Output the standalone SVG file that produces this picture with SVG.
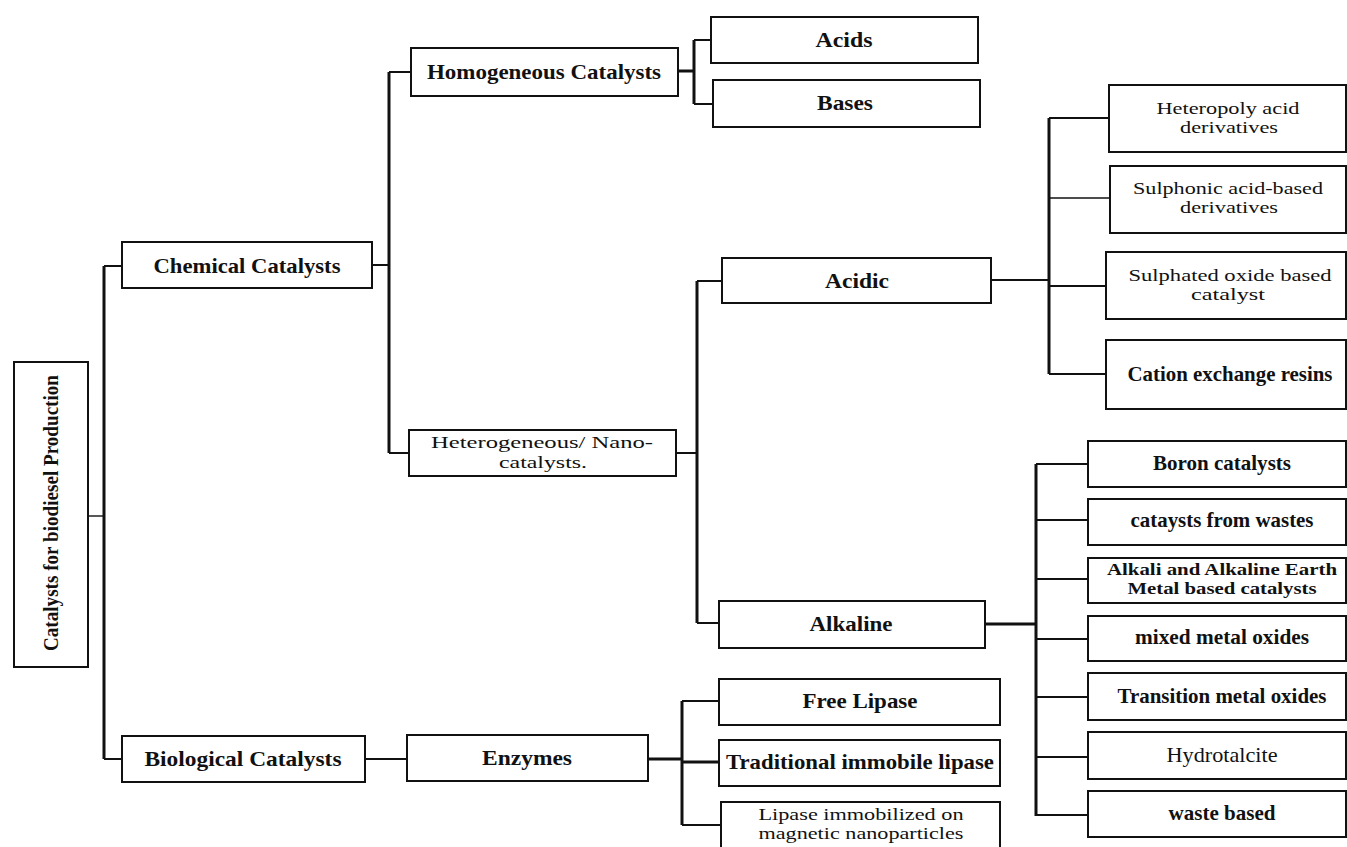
<svg xmlns="http://www.w3.org/2000/svg" width="1347" height="847" viewBox="0 0 1347 847">
  <style>
    .box { fill: #ffffff; stroke: #111111; stroke-width: 2; }
    .lbl { font-family: "Liberation Serif", "Times New Roman", serif; font-size: 21px; fill: #111111; text-anchor: middle; }
    .two { font-size: 17px; }
    .b { font-weight: bold; }
    .wire { fill: none; stroke: #111111; stroke-width: 2; }
    .thick { stroke-width: 3; }
    .thin { stroke-width: 1.4; }
  </style>
  <rect width="1347" height="847" fill="#ffffff"/>

  <!-- connectors -->
  <g id="connectors">
    <path class="wire thin" d="M88 516 H104"/>
    <path class="wire thick" d="M104 266 V759"/>
    <path class="wire" d="M104 266 H122 M104 759 H122"/>

    <path class="wire" d="M372 265 H389"/>
    <path class="wire thick" d="M389 72 V453"/>
    <path class="wire" d="M389 72 H411 M389 453 H409"/>

    <path class="wire thick" d="M678 71 H694"/>
    <path class="wire thick" d="M694 40 V104"/>
    <path class="wire" d="M694 40 H711 M694 104 H713"/>

    <path class="wire" d="M676 453 H697"/>
    <path class="wire thick" d="M697 281 V623"/>
    <path class="wire" d="M697 281 H722 M697 623 H719"/>

    <path class="wire" d="M991 280 H1049"/>
    <path class="wire thick" d="M1049 118 V374"/>
    <path class="wire" d="M1049 118 H1109 M1049 286 H1106 M1049 374 H1106"/>
    <path class="wire thin" d="M1049 198 H1110"/>

    <path class="wire thick" d="M985 624 H1036"/>
    <path class="wire thick" d="M1036 464 V816"/>
    <path class="wire" d="M1036 464 H1088 M1036 520 H1088 M1036 579 H1088 M1036 639 H1088 M1036 697 H1088 M1036 757 H1088 M1036 815 H1088"/>

    <path class="wire" d="M365 759 H407"/>
    <path class="wire thick" d="M648 759 H682"/>
    <path class="wire thick" d="M682 701 V825"/>
    <path class="wire" d="M682 701 H719 M682 825 H721"/>
    <path class="wire thick" d="M682 762 H719"/>
  </g>

  <!-- root -->
  <g id="root">
    <rect class="box" x="14" y="362" width="74" height="305"/>
    <text class="lbl b" transform="translate(58,513) rotate(-90)" textLength="276" lengthAdjust="spacingAndGlyphs">Catalysts for biodiesel Production</text>
  </g>

  <!-- level 1 -->
  <g id="chemical">
    <rect class="box" x="122" y="242" width="250" height="46"/>
    <text class="lbl b" x="247" y="273" textLength="187" lengthAdjust="spacingAndGlyphs">Chemical Catalysts</text>
  </g>
  <g id="biological">
    <rect class="box" x="122" y="736" width="243" height="46"/>
    <text class="lbl b" x="243" y="766" textLength="197" lengthAdjust="spacingAndGlyphs">Biological Catalysts</text>
  </g>

  <!-- level 2 -->
  <g id="homogeneous">
    <rect class="box" x="411" y="48" width="267" height="48"/>
    <text class="lbl b" x="544" y="79" textLength="234" lengthAdjust="spacingAndGlyphs">Homogeneous Catalysts</text>
  </g>
  <g id="heterogeneous">
    <rect class="box" x="409" y="430" width="267" height="46"/>
    <text class="lbl two" x="542" y="448" textLength="222" lengthAdjust="spacingAndGlyphs">Heterogeneous/ Nano-</text>
    <text class="lbl two" x="543" y="468" textLength="88" lengthAdjust="spacingAndGlyphs">catalysts.</text>
  </g>
  <g id="enzymes">
    <rect class="box" x="407" y="735" width="241" height="46"/>
    <text class="lbl b" x="527" y="765" textLength="90" lengthAdjust="spacingAndGlyphs">Enzymes</text>
  </g>

  <!-- homogeneous children -->
  <g id="acids">
    <rect class="box" x="711" y="17" width="267" height="46"/>
    <text class="lbl b" x="844" y="47" textLength="57" lengthAdjust="spacingAndGlyphs">Acids</text>
  </g>
  <g id="bases">
    <rect class="box" x="713" y="80" width="267" height="47"/>
    <text class="lbl b" x="845" y="110" textLength="56" lengthAdjust="spacingAndGlyphs">Bases</text>
  </g>

  <!-- heterogeneous children -->
  <g id="acidic">
    <rect class="box" x="722" y="258" width="269" height="45"/>
    <text class="lbl b" x="857" y="288" textLength="64" lengthAdjust="spacingAndGlyphs">Acidic</text>
  </g>
  <g id="alkaline">
    <rect class="box" x="719" y="601" width="266" height="47"/>
    <text class="lbl b" x="851" y="631" textLength="83" lengthAdjust="spacingAndGlyphs">Alkaline</text>
  </g>

  <!-- acidic children -->
  <g id="heteropoly">
    <rect class="box" x="1109" y="85" width="237" height="67"/>
    <text class="lbl two" x="1228" y="114" textLength="143" lengthAdjust="spacingAndGlyphs">Heteropoly acid</text>
    <text class="lbl two" x="1229" y="133" textLength="98" lengthAdjust="spacingAndGlyphs">derivatives</text>
  </g>
  <g id="sulphonic">
    <rect class="box" x="1110" y="166" width="236" height="67"/>
    <text class="lbl two" x="1228" y="194" textLength="190" lengthAdjust="spacingAndGlyphs">Sulphonic acid-based</text>
    <text class="lbl two" x="1229" y="213" textLength="98" lengthAdjust="spacingAndGlyphs">derivatives</text>
  </g>
  <g id="sulphated">
    <rect class="box" x="1106" y="252" width="240" height="67"/>
    <text class="lbl two" x="1230" y="281" textLength="203" lengthAdjust="spacingAndGlyphs">Sulphated oxide based</text>
    <text class="lbl two" x="1228" y="300" textLength="74" lengthAdjust="spacingAndGlyphs">catalyst</text>
  </g>
  <g id="cation">
    <rect class="box" x="1106" y="340" width="240" height="69"/>
    <text class="lbl b" x="1230" y="381" textLength="205" lengthAdjust="spacingAndGlyphs">Cation exchange resins</text>
  </g>

  <!-- alkaline children -->
  <g id="boron">
    <rect class="box" x="1088" y="441" width="258" height="46"/>
    <text class="lbl b" x="1222" y="470" textLength="138" lengthAdjust="spacingAndGlyphs">Boron catalysts</text>
  </g>
  <g id="wastes">
    <rect class="box" x="1088" y="499" width="258" height="46"/>
    <text class="lbl b" x="1222" y="527" textLength="183" lengthAdjust="spacingAndGlyphs">cataysts from wastes</text>
  </g>
  <g id="alkali">
    <rect class="box" x="1088" y="558" width="258" height="45"/>
    <text class="lbl two b" x="1222" y="575" textLength="230" lengthAdjust="spacingAndGlyphs">Alkali and Alkaline Earth</text>
    <text class="lbl two b" x="1222" y="594" textLength="189" lengthAdjust="spacingAndGlyphs">Metal based catalysts</text>
  </g>
  <g id="mixed">
    <rect class="box" x="1088" y="616" width="258" height="45"/>
    <text class="lbl b" x="1222" y="644" textLength="174" lengthAdjust="spacingAndGlyphs">mixed metal oxides</text>
  </g>
  <g id="transition">
    <rect class="box" x="1088" y="673" width="258" height="47"/>
    <text class="lbl b" x="1222" y="703" textLength="209" lengthAdjust="spacingAndGlyphs">Transition metal oxides</text>
  </g>
  <g id="hydrotalcite">
    <rect class="box" x="1088" y="732" width="258" height="47"/>
    <text class="lbl" x="1222" y="762" textLength="111" lengthAdjust="spacingAndGlyphs">Hydrotalcite</text>
  </g>
  <g id="waste-based">
    <rect class="box" x="1088" y="791" width="258" height="46"/>
    <text class="lbl b" x="1222" y="820" textLength="107" lengthAdjust="spacingAndGlyphs">waste based</text>
  </g>

  <!-- enzyme children -->
  <g id="free-lipase">
    <rect class="box" x="719" y="679" width="281" height="46"/>
    <text class="lbl b" x="860" y="708" textLength="115" lengthAdjust="spacingAndGlyphs">Free Lipase</text>
  </g>
  <g id="traditional">
    <rect class="box" x="719" y="740" width="281" height="46"/>
    <text class="lbl b" x="860" y="769" textLength="268" lengthAdjust="spacingAndGlyphs">Traditional immobile lipase</text>
  </g>
  <g id="magnetic">
    <rect class="box" x="721" y="802" width="279" height="50"/>
    <text class="lbl two" x="861" y="820" textLength="205" lengthAdjust="spacingAndGlyphs">Lipase immobilized on</text>
    <text class="lbl two" x="861" y="839" textLength="205" lengthAdjust="spacingAndGlyphs">magnetic nanoparticles</text>
  </g>
</svg>
